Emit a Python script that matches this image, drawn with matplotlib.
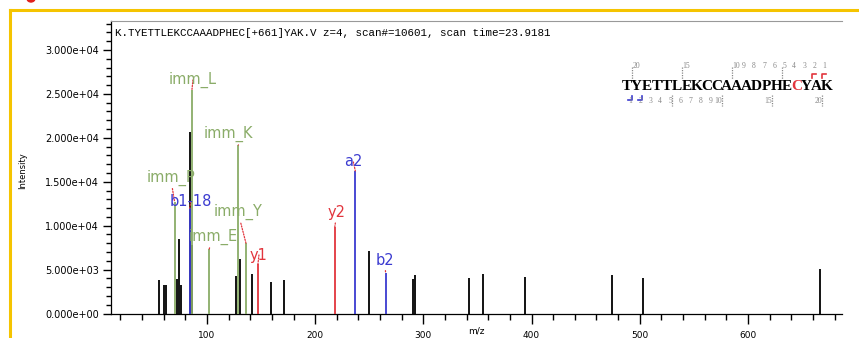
import numpy as np
import matplotlib
matplotlib.use('Agg')
import matplotlib.pyplot as plt
from matplotlib.lines import Line2D
from matplotlib.patches import Ellipse

# unlabelled peaks (m/z, intensity)
peak_mz = [55.4, 60.5, 62.4, 72.0, 74.1, 76.0, 83.9, 86.6, 127.1, 130.1, 141.6,
           159.4, 171.4, 249.4, 290.1, 291.9, 341.9, 355.1, 393.6, 474.3, 503.2, 666.3]
peak_int = [3815, 3245, 3245, 3895, 8480, 3245, 20700, 7800, 4270, 6205, 4500,
            3620, 3780, 7115, 3930, 4350, 4010, 4500, 4190, 4350, 4010, 5030]

# annotated fragment peaks
ion_names = ['imm_P', 'b1-18', 'imm_L', 'imm_E', 'imm_K', 'imm_Y', 'y1', 'y2', 'a2', 'b2']
ion_mz = [70.065, 84.04, 86.096, 102.055, 129.102, 136.076, 147.113, 218.150, 237.123, 265.118]
ion_int = [12730, 11955, 25450, 7345, 19185, 7990, 5635, 9880, 16225, 4575]
ion_kind = ['imm', 'b', 'imm', 'imm', 'imm', 'imm', 'y', 'y', 'b', 'b']
# label offset from peak top, pixels
ion_off = [(-4, 24), (1, 7), (1, 10), (4, 12), (-10, 11), (-8, 31), (1, 9), (2, 14), (-2, 9), (-1, 13)]

sequence = 'TYETTLEKCCAAADPHECYAK'
modified = [18]
seen_b = [1, 2]
seen_y = [1, 2]

title = 'K.TYETTLEKCCAAADPHEC[+661]YAK.V z=4, scan#=10601, scan time=23.9181'

colors = {'imm': '#8aac68', 'b': '#3b3bd0', 'y': '#e2353d'}
red = '#e2353d'

W, H = 859, 338
fig = plt.figure(figsize=(W / 100, H / 100), dpi=100)
def fx(x): return x / W
def fy(y): return 1 - y / H

ax = fig.add_axes([fx(111), fy(313.5), (842 - 111) / W, (313.5 - 21) / H])

ax.vlines(peak_mz, 0, peak_int, color='black', lw=1.3, zorder=2)
for n, m, i, k, off in zip(ion_names, ion_mz, ion_int, ion_kind, ion_off):
    ax.vlines(m, 0, i, color=colors[k], lw=1.3, zorder=3)
    ax.annotate(n, (m, i), xytext=off, textcoords='offset pixels', ha='center', va='center',
                fontsize=10.5, color=colors[k], zorder=4,
                arrowprops=dict(arrowstyle='-', color=red, ls=(0, (1, 1.2)), lw=0.9,
                                shrinkA=0, shrinkB=0))

ax.set_xlim(11.3, 686.9)
ax.set_ylim(0, 33300)
ax.set_xticks(np.arange(100, 601, 100))
ax.set_xticks(np.arange(20, 681, 20), minor=True)
ax.set_yticks(np.arange(0, 30001, 5000))
ax.set_yticks(np.arange(0, 33001, 1000), minor=True)
ax.set_yticklabels(['{:.3e}'.format(v) for v in np.arange(0, 30001, 5000)])
ax.tick_params(axis='x', which='major', length=7.5, width=1, labelsize=6.5, pad=5)
ax.tick_params(axis='x', which='minor', length=4, width=1)
ax.tick_params(axis='y', which='major', length=6, width=1, labelsize=7, pad=2.5)
ax.tick_params(axis='y', which='minor', length=3.6, width=1)
ax.spines['right'].set_visible(False)
ax.spines['top'].set_color('#999999')
for s in ['left', 'bottom']:
    ax.spines[s].set_linewidth(0.9)

ax.text(0.006, 0.96, title, transform=ax.transAxes, ha='left', va='center',
        fontsize=7.8, family='Liberation Mono')

fig.text(fx(476), fy(331), 'm/z', ha='center', va='center', fontsize=6.5)
fig.text(fx(23), fy(171), 'Intensity', ha='center', va='center', fontsize=6, rotation=90)

# yellow frame and red blob at top
gold = '#f5c400'
fig.add_artist(Line2D([fx(9.5), fx(9.5)], [0, fy(9.5)], color=gold, lw=2.2))
fig.add_artist(Line2D([fx(9.5), 1], [fy(9.5), fy(9.5)], color=gold, lw=2.2))
fig.add_artist(Ellipse((fx(31), fy(-1.5)), 8 / W, 7 / H, color='#e0201c'))

# peptide sequence with fragment marks
n = len(sequence)
x0, step, yc = 621.7, 10.0, 87
for i, ch in enumerate(sequence, start=1):
    c = red if i in modified else 'black'
    fig.text(fx(x0 + step * (i - 0.5)), fy(yc), ch, ha='center', va='center',
             fontsize=11, fontweight='bold', family='Liberation Serif', color=c)
grey = '#888888'
for k in range(1, n):
    bx = x0 + step * k
    yn = n - k
    if yn <= 10 or yn % 5 == 0:
        fig.text(fx(bx + 0.5), fy(66), str(yn), ha='left', va='center', fontsize=5.5,
                 family='Liberation Serif', color=grey)
    if yn % 5 == 0:
        fig.add_artist(Line2D([fx(bx), fx(bx)], [fy(67), fy(79)], color=grey, lw=0.9, ls=(0, (1, 1))))
    if k <= 10 or k % 5 == 0:
        fig.text(fx(bx + 0.5), fy(101.5), str(k), ha='right', va='center', fontsize=5.5,
                 family='Liberation Serif', color=grey)
    if k % 5 == 0:
        fig.add_artist(Line2D([fx(bx), fx(bx)], [fy(95), fy(106)], color=grey, lw=0.9, ls=(0, (1, 1))))
    if yn in seen_y:
        fig.add_artist(Line2D([fx(bx), fx(bx), fx(bx + 4)], [fy(78), fy(74), fy(74)], color=red, lw=1.2))
    if k in seen_b:
        fig.add_artist(Line2D([fx(bx), fx(bx), fx(bx - 4)], [fy(96), fy(100), fy(100)], color='#3b3bd0', lw=1.2))

fig.savefig('out.png', dpi=100)
